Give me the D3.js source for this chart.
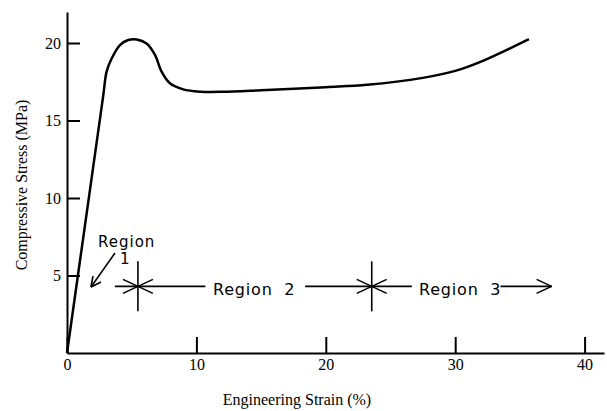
<!DOCTYPE html>
<html>
<head>
<meta charset="utf-8">
<script src="https://cdn.jsdelivr.net/npm/d3@7"></script>
<style>
  body { margin: 0; background: #fff; }
  .note { font-family: "DejaVu Sans", sans-serif; fill: #000; white-space: pre; }
</style>
</head>
<body>
<div id="chart"></div>
<script>
// stress-strain curve, strain (%) vs stress (MPa)
const strain = [0, 1.4, 2.8, 3.06, 3.45, 4.09, 4.73, 5.38, 6.15, 6.8, 7.31, 7.95, 8.98, 10.3, 12, 15, 20, 23.2, 27.5, 30, 32, 35.7]
const stress = [0, 8.3, 16.6, 18.15, 19.0, 19.87, 20.19, 20.23, 19.97, 19.23, 18.15, 17.4, 17.01, 16.86, 16.85, 16.95, 17.15, 17.3, 17.75, 18.2, 18.8, 20.25]

const xTicks = [0, 10, 20, 30, 40]
const yTicks = [5, 10, 15, 20]

// region boundaries and annotation level (data units)
const regionBounds = [5.48, 23.55]
const regionLevel = 4.3
const regionNames = ["Region", "1", "Region  2", "Region  3"]

const width = 607, height = 411
const serif = "'Liberation Serif', 'Times New Roman', serif"

const svg = d3.select("#chart").append("svg")
    .attr("width", width)
    .attr("height", height)

const x = d3.scaleLinear().domain([0, 41.5]).range([67, 604])
const y = d3.scaleLinear().domain([0, 22]).range([353, 12])

// axes
const gx = svg.append("g")
    .attr("transform", `translate(0,${y(0)})`)
    .call(d3.axisBottom(x).tickValues(xTicks).tickSizeInner(-16).tickSizeOuter(0).tickPadding(6))

const gy = svg.append("g")
    .attr("transform", `translate(${x(0)},0)`)
    .call(d3.axisLeft(y).tickValues(yTicks).tickSizeInner(-13).tickSizeOuter(0).tickPadding(6))

;[gx, gy].forEach(g => {
  g.attr("font-family", serif).attr("font-size", 16)
  g.selectAll("text").attr("fill", "#000").style("font-family", serif).style("font-size", "16px")
  g.selectAll("line, path").attr("stroke", "#000").attr("stroke-width", 2)
})

svg.append("text")
    .attr("x", 297).attr("y", 405)
    .attr("text-anchor", "middle")
    .style("font-family", serif).style("font-size", "16px")
    .text("Engineering Strain (%)")

svg.append("text")
    .attr("transform", "translate(27,185) rotate(-90)")
    .attr("text-anchor", "middle")
    .style("font-family", serif).style("font-size", "16px")
    .text("Compressive Stress (MPa)")

// curve
const line = d3.line()
    .x((d, i) => x(strain[i]))
    .y(d => y(d))
    .curve(d3.curveCatmullRom.alpha(0.5))

svg.append("path")
    .datum(stress)
    .attr("d", line)
    .attr("fill", "none")
    .attr("stroke", "#000")
    .attr("stroke-width", 2.5)

// region annotations
const ann = svg.append("g").attr("stroke", "#000").attr("stroke-width", 1.6).attr("fill", "none")
const ly = y(regionLevel)

function seg(x1, y1, x2, y2) {
  ann.append("line").attr("x1", x1).attr("y1", y1).attr("x2", x2).attr("y2", y2)
}

regionBounds.forEach(b => {
  const cx = x(b)
  seg(cx, ly - 25, cx, ly + 25)
  seg(cx - 15, ly - 7, cx + 15, ly + 7)
  seg(cx - 15, ly + 7, cx + 15, ly - 7)
})

seg(x(3.7), ly, x(10.7), ly)
seg(x(18.4), ly, x(regionBounds[1]), ly)
seg(x(regionBounds[1]), ly, x(26.65), ly)
seg(x(33.5), ly, x(37.45), ly)
seg(x(37.45), ly, x(37.45) - 15, ly - 7)
seg(x(37.45), ly, x(37.45) - 15, ly + 7)

// region 1 arrow
seg(115, 253, 91, 287)
seg(91, 287, 101, 282)
seg(91, 287, 93, 276)

svg.append("text").attr("class", "note")
    .attr("x", 98).attr("y", 247)
    .style("font-size", "15px").style("letter-spacing", "1px")
    .text(regionNames[0])
svg.append("text").attr("class", "note")
    .attr("x", 120).attr("y", 264)
    .style("font-size", "15px")
    .text(regionNames[1])

svg.append("text").attr("class", "note")
    .attr("x", 213).attr("y", 295)
    .style("font-size", "16px").style("letter-spacing", "0.8px")
    .text(regionNames[2])

svg.append("text").attr("class", "note")
    .attr("x", 419).attr("y", 295)
    .style("font-size", "16px").style("letter-spacing", "0.8px")
    .text(regionNames[3])
</script>
</body>
</html>
